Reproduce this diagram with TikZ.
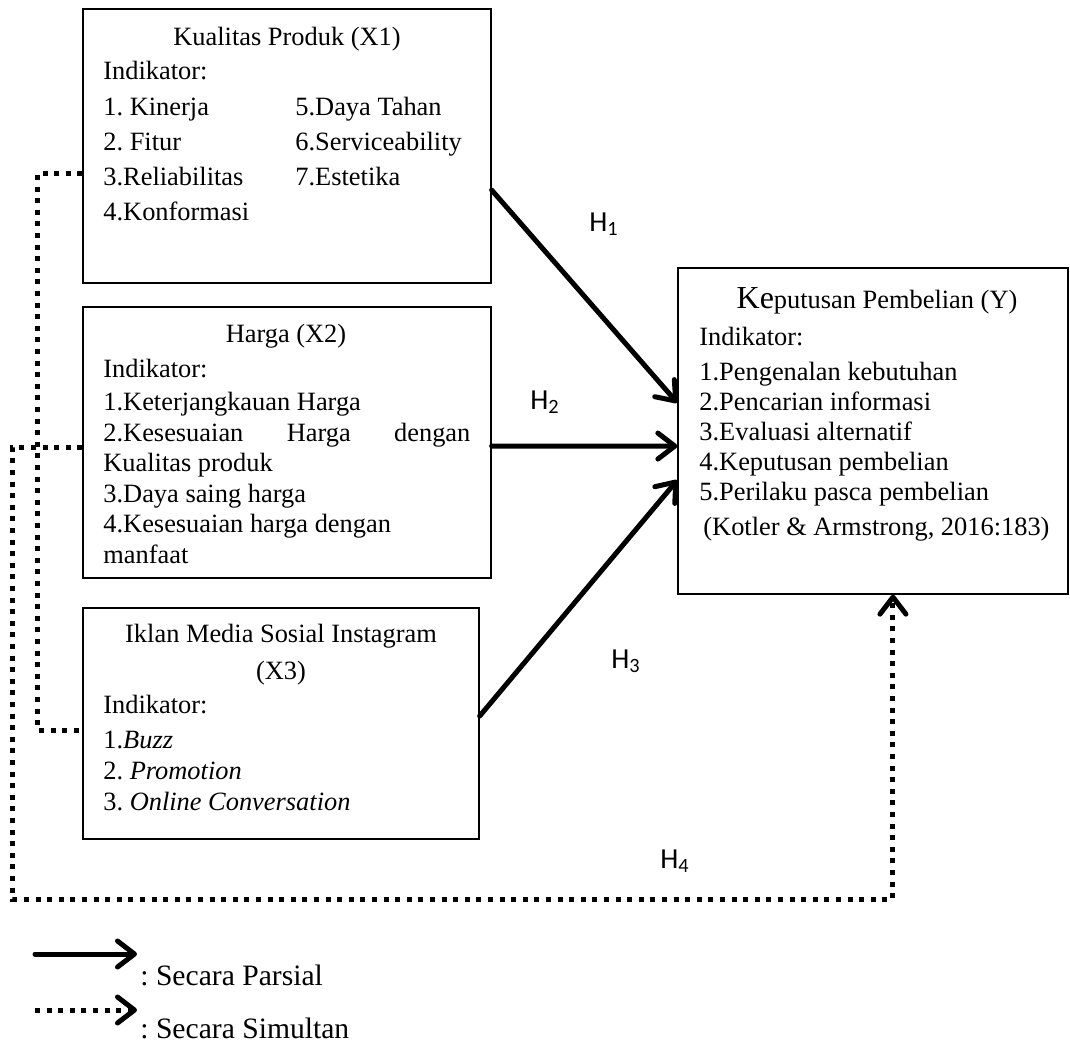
\documentclass[tikz,border=0pt]{standalone}
\usepackage{fontspec}
\setmainfont{Liberation Serif}
\newfontfamily\hfont{Carlito}
\usetikzlibrary{arrows.meta,calc}
\frenchspacing

\tikzset{
  box/.style={draw, line width=0.65pt, inner sep=0pt},
  txt/.style={inner sep=0pt, anchor=base west, font=\fontsize{13.2}{15}\selectfont},
  ttl/.style={txt, anchor=base},
  legtxt/.style={txt, font=\fontsize{14.8}{17}\selectfont},
  hyp/.style={inner sep=0pt, anchor=base west, font=\hfont\fontsize{14.5}{16}\selectfont},
  tip/.style={-{Straight Barb[length=8.5pt,width=13pt,round]}},
  partial/.style={line width=2.5pt, line cap=round, tip},
  simul/.style={line width=2.5pt, dash pattern=on 2.5pt off 3.3pt},
}

\begin{document}
\begin{tikzpicture}[x=0.5pt,y=-0.5pt]
  \useasboundingbox (0,0) rectangle (1070,1045);

  % kotak variabel
  \node[box, minimum width=204pt, minimum height=137pt] (kualitas) at (287,146) {};
  \node[box, minimum width=204pt, minimum height=135.5pt] (harga) at (287,442.5) {};
  \node[box, minimum width=198pt, minimum height=115.5pt] (iklan) at (281,723.5) {};
  \node[box, minimum width=195pt, minimum height=163pt] (keputusan) at (873,431) {};

  % X1
  \node[ttl] (kualitas-t) at (287,45) {Kualitas Produk (X1)};
  \node[txt] (kualitas-i) at (103,79) {Indikator:};
  \foreach \t [count=\i] in {1. Kinerja, 2. Fitur, 3.Reliabilitas, 4.Konformasi}
    \node[txt] (kualitas-a\i) at (103,{80+35*\i}) {\t};
  \foreach \t [count=\i] in {5.Daya Tahan, 6.Serviceability, 7.Estetika}
    \node[txt] (kualitas-b\i) at (295,{80+35*\i}) {\t};

  % X2
  \node[ttl] (harga-t) at (286,342) {Harga (X2)};
  \node[txt] (harga-i) at (103,377) {Indikator:};
  \node[txt] (harga-1) at (103,410.5) {1.Keterjangkauan Harga};
  \node[txt] (harga-2) at (103,441) {\makebox[183.5pt][s]{2.Kesesuaian\hfill Harga\hfill dengan}};
  \node[txt] (harga-3) at (103,471.5) {Kualitas produk};
  \node[txt] (harga-4) at (103,502) {3.Daya saing harga};
  \node[txt] (harga-5) at (103,532.5) {4.Kesesuaian harga dengan};
  \node[txt] (harga-6) at (103,563) {manfaat};

  % X3
  \node[ttl] (iklan-t) at (281,642) {Iklan Media Sosial Instagram};
  \node[ttl] (iklan-x) at (281,679) {(X3)};
  \node[txt] (iklan-i) at (103,713) {Indikator:};
  \foreach \t [count=\i] in {1.\textit{Buzz}, 2. \textit{Promotion}, 3. \textit{Online Conversation}}
    \node[txt] (iklan-a\i) at (103,{717+31*\i}) {\t};

  % Y
  \node[ttl] (keputusan-t) at (877,308) {{\fontsize{16}{18}\selectfont Ke}putusan Pembelian (Y)};
  \node[txt] (keputusan-i) at (699,345) {Indikator:};
  \foreach \t [count=\i] in {1.Pengenalan kebutuhan, 2.Pencarian informasi,
      3.Evaluasi alternatif, 4.Keputusan pembelian, 5.Perilaku pasca pembelian}
    \node[txt] (keputusan-a\i) at (699,{350+30*\i}) {\t};
  \node[txt] (keputusan-s) at (703,535) {(Kotler \& Armstrong, 2016:183)};

  % pengaruh parsial
  \draw[partial] ($(kualitas.north east)!0.66!(kualitas.south east)$)
    -- ($(keputusan.north west)!0.414!(keputusan.south west)$);
  \draw[partial] ($(harga.north east)!0.513!(harga.south east)$)
    -- ($(keputusan.north west)!0.546!(keputusan.south west)$);
  \draw[partial] ($(iklan.north east)!0.468!(iklan.south east)$)
    -- ($(keputusan.north west)!0.65!(keputusan.south west)$);

  % pengaruh simultan
  \draw[simul] ($(kualitas.north west)!0.6!(kualitas.south west)$)
    -- ++(-45,0) |- ($(iklan.north west)!0.528!(iklan.south west)$);
  \draw[simul, tip] ($(harga.north west)!0.517!(harga.south west)$)
    -- ++(-70,0) -- ++(0,452)
    -| ($(keputusan.south west)!0.551!(keputusan.south east)$);

  \node[hyp] (h1) at (589,231) {H\textsubscript{1}};
  \node[hyp] (h2) at (530,409) {H\textsubscript{2}};
  \node[hyp] (h3) at (611,668) {H\textsubscript{3}};
  \node[hyp] (h4) at (660,868) {H\textsubscript{4}};

  % keterangan
  \coordinate (leg1a) at (35,954);
  \coordinate (leg1b) at (137,954);
  \draw[partial] (leg1a) -- (leg1b);
  \node[legtxt] (leg1) at (140,985) {: Secara Parsial};
  \coordinate (leg2a) at (35,1010);
  \coordinate (leg2b) at (137,1010);
  \draw[simul, tip] (leg2a) -- (leg2b);
  \node[legtxt] (leg2) at (140,1038) {: Secara Simultan};
\end{tikzpicture}
\end{document}
